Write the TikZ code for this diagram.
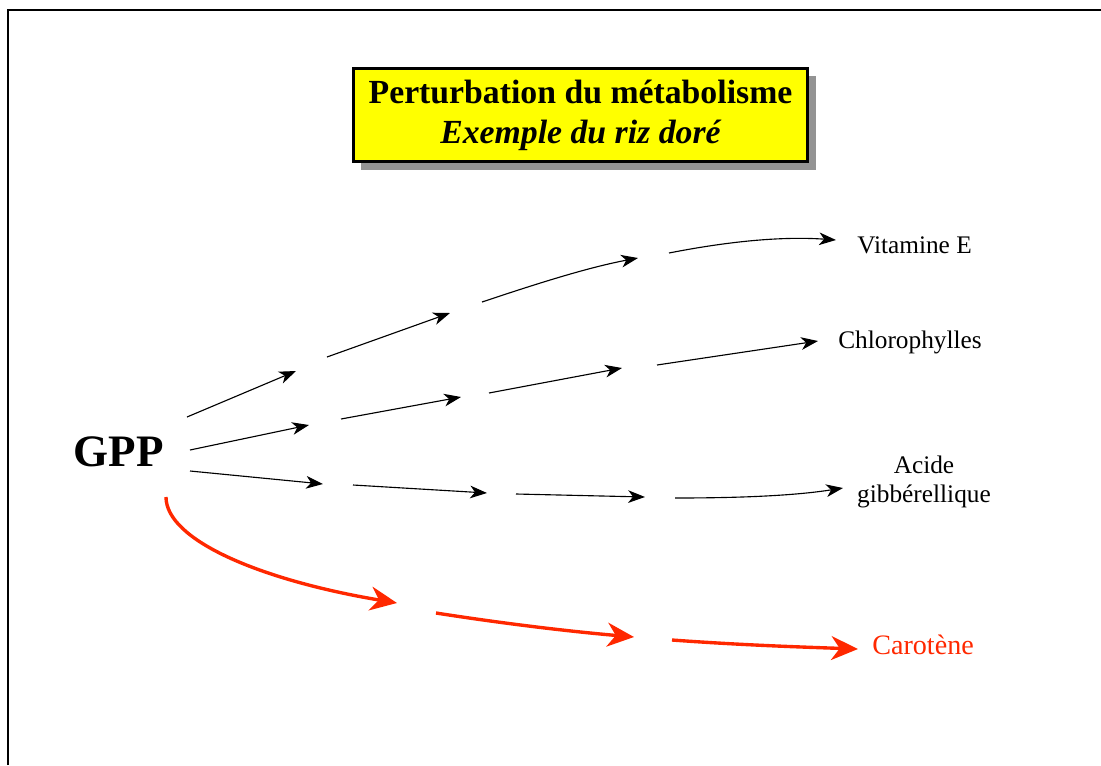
\documentclass[tikz,border=0pt]{standalone}
\usepackage{fontspec}
\setmainfont{Liberation Serif}
\usetikzlibrary{arrows.meta}
\usetikzlibrary{shadows}

\definecolor{titleyellow}{RGB}{255,255,0}
\definecolor{shadowgray}{RGB}{147,147,147}
\definecolor{carored}{RGB}{255,40,0}

\tikzset{
  pathway/.style={line width=0.8pt, -{Stealth[length=12pt,width=9pt,inset=3.5pt]}},
  carotpath/.style={carored, line width=2.4pt, -{Stealth[length=19pt,width=17pt,inset=6pt]}},
  product/.style={inner sep=0pt, font=\fontsize{18}{21}\selectfont},
}

\begin{document}
\begin{tikzpicture}[x=0.025cm, y=-0.025cm]
  \useasboundingbox (0,0) rectangle (1101,765);
  % frame
  \draw[line width=1pt] (8,765) -- (8,10) -- (1101,10);
  % title
  \node[draw, line width=2pt, fill=titleyellow, inner sep=0pt,
        minimum width=11.35cm, minimum height=2.325cm, align=center,
        font=\fontsize{24}{28.5}\selectfont\bfseries,
        drop shadow={shadow xshift=0.2cm, shadow yshift=-0.2cm, fill=shadowgray, opacity=1}]
    (title) at (580.5,115) {Perturbation du métabolisme\\ {\itshape Exemple du riz doré}};
  % substrate and products
  \node[inner sep=0pt, anchor=base, font=\fontsize{32}{36}\selectfont\bfseries] (gpp) at (118.5,466) {GPP};
  \node[product, anchor=base west] (vitE) at (857,253) {Vitamine E};
  \node[product, anchor=base west] (chloro) at (838,348) {Chlorophylles};
  \node[product, align=center] (gibb) at (924,482) {Acide\\gibbérellique};
  \node[product, anchor=base west, text=carored, font=\fontsize{20}{24}\selectfont] (carot) at (872,654) {Carotène};
  % vitamine E pathway
  \coordinate (v0) at (187,417);
  \coordinate (v1a) at (296,371); \coordinate (v1b) at (327,357);
  \coordinate (v2a) at (450,313); \coordinate (v2b) at (482,302);
  \coordinate (v3a) at (638,258); \coordinate (v3b) at (669,253);
  \coordinate (v4) at (836,240);
  % chlorophylles pathway
  \coordinate (c0) at (190,450);
  \coordinate (c1a) at (309,425); \coordinate (c1b) at (341,419);
  \coordinate (c2a) at (461,397); \coordinate (c2b) at (489,393);
  \coordinate (c3a) at (622,368); \coordinate (c3b) at (657,365);
  \coordinate (c4) at (818,341);
  % gibberellic acid pathway
  \coordinate (g0) at (190,471);
  \coordinate (g1a) at (323,484); \coordinate (g1b) at (353,485);
  \coordinate (g2a) at (487,493); \coordinate (g2b) at (516,494);
  \coordinate (g3a) at (645,497); \coordinate (g3b) at (675,498);
  \coordinate (g4) at (843,488);
  % carotene pathway
  \coordinate (r0) at (166,497);
  \coordinate (r1a) at (397,603); \coordinate (r1b) at (436,613);
  \coordinate (r2a) at (634,637); \coordinate (r2b) at (672,640);
  \coordinate (r3) at (858,649);
  % black steps
  \foreach \a/\b in {v0/v1a, v1b/v2a, c0/c1a, c1b/c2a, c2b/c3a, c3b/c4, g0/g1a, g1b/g2a, g2b/g3a}
    \draw[pathway] (\a) -- (\b);
  \draw[pathway] (v2b) .. controls (530,286) and (585,268) .. (v3a);
  \draw[pathway] (v3b) .. controls (725,242) and (780,236) .. (v4);
  \draw[pathway] (g3b) .. controls (760,498) and (805,494) .. (g4);
  % red steps
  \draw[carotpath] (r0) .. controls (166,540) and (260,580) .. (r1a);
  \draw[carotpath] (r1b) .. controls (500,623) and (565,631) .. (r2a);
  \draw[carotpath] (r2b) .. controls (740,645) and (800,647) .. (r3);
\end{tikzpicture}
\end{document}
